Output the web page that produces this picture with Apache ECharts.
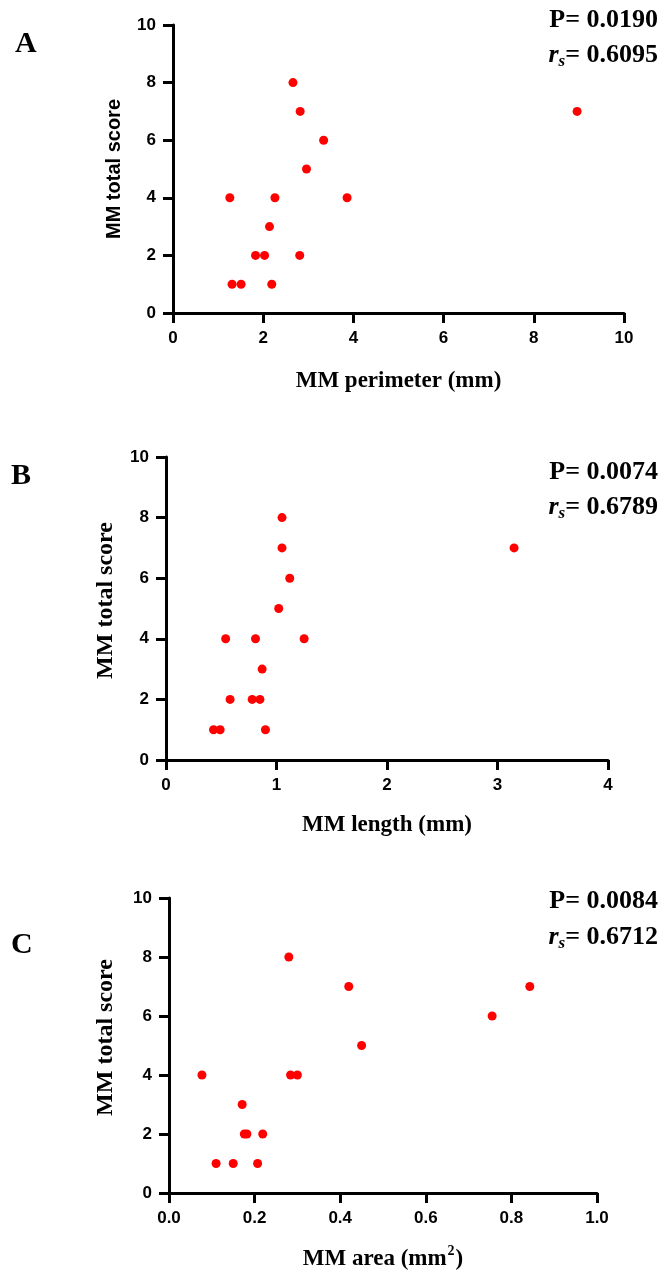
<!DOCTYPE html>
<html><head><meta charset="utf-8">
<script src="https://cdn.jsdelivr.net/npm/echarts@6/dist/echarts.min.js"></script>
<style>html,body{margin:0;padding:0;background:#fff}#c{width:665px;height:1274px}</style>
</head><body><div id="c"></div>
<script>
// ---- data ----
const scores = [8, 7, 7, 6, 5, 4, 4, 4, 3, 2, 2, 2, 1, 1, 1];
const perimeterMm = [2.66, 2.82, 8.96, 3.34, 2.96, 1.26, 2.26, 3.86, 2.14, 1.83, 2.03, 2.81, 1.31, 1.51, 2.19];
const lengthMm = [1.05, 1.05, 3.15, 1.12, 1.02, 0.54, 0.81, 1.25, 0.87, 0.58, 0.78, 0.85, 0.43, 0.49, 0.90];
const areaMm2 = [0.28, 0.42, 0.843, 0.755, 0.45, 0.077, 0.284, 0.30, 0.171, 0.176, 0.182, 0.219, 0.11, 0.15, 0.207];
const xRanges = [[0, 10, 2], [0, 4, 1], [0, 1, 0.2]];
const yRange = [0, 10, 2];
const panelLetters = ['A', 'B', 'C'];
const pValues = ['0.0190', '0.0074', '0.0084'];
const rsValues = ['0.6095', '0.6789', '0.6712'];
const xTitles = ['MM perimeter (mm)', 'MM length (mm)', '{a|MM area (mm}{sup|2}{a|)}'];
const yTitle = 'MM total score';

// ---- layout ----
const grids = [
  {left: 173, top: 25, width: 451, height: 288},
  {left: 166, top: 457, width: 442, height: 303},
  {left: 169, top: 898, width: 428, height: 295}
];
const xNameGaps = [57, 54, 51];
const yNameGaps = [49, 48, 51];
const yNameFonts = [['Liberation Sans', 20, [0, 0, 0, 0]], ['Liberation Serif', 24, [0, 0, 0, 16]], ['Liberation Serif', 24, [0, 0, 0, 16]]];
const statTop = [[5, 40], [457, 492], [886, 922]];
const letterPos = [[15, 29], [11, 461], [11, 930]];

const SERIF = 'Liberation Serif';
const SANS = 'Liberation Sans';
const black = '#000';

function makeAxis() {
  return {
    type: 'value',
    axisLine: {show: true, lineStyle: {color: black, width: 3}},
    axisTick: {show: true, length: 10, lineStyle: {color: black, width: 3}},
    splitLine: {show: false},
    axisLabel: {color: black, fontFamily: SANS, fontWeight: 'bold', fontSize: 17, margin: 17}
  };
}

const xAxes = [], yAxes = [], series = [], titles = [];
const xData = [perimeterMm, lengthMm, areaMm2];
for (let i = 0; i < 3; i++) {
  const r = xRanges[i];
  const xa = makeAxis();
  xa.gridIndex = i;
  xa.min = r[0]; xa.max = r[1]; xa.interval = r[2];
  if (i === 2) xa.axisLabel.formatter = v => v.toFixed(1);
  xa.name = xTitles[i];
  xa.nameLocation = 'middle';
  xa.nameGap = xNameGaps[i];
  xa.nameTextStyle = {color: black, fontFamily: SERIF, fontWeight: 'bold', fontSize: 23};
  if (i === 2) {
    xa.nameTextStyle.rich = {
      a: {color: black, fontFamily: SERIF, fontWeight: 'bold', fontSize: 23},
      sup: {color: black, fontFamily: SERIF, fontWeight: 'bold', fontSize: 14, verticalAlign: 'top', lineHeight: 30, padding: [0, 1, 12, 1]}
    };
  }
  xAxes.push(xa);

  const ya = makeAxis();
  ya.gridIndex = i;
  ya.min = yRange[0]; ya.max = yRange[1]; ya.interval = yRange[2];
  ya.name = yTitle;
  ya.nameLocation = 'middle';
  ya.nameGap = yNameGaps[i];
  ya.nameTextStyle = {color: black, fontFamily: yNameFonts[i][0], fontWeight: 'bold', fontSize: yNameFonts[i][1], padding: yNameFonts[i][2]};
  yAxes.push(ya);

  series.push({
    type: 'scatter', xAxisIndex: i, yAxisIndex: i,
    symbol: 'circle', symbolSize: 9,
    itemStyle: {color: '#ff0000', opacity: 1},
    data: xData[i].map((x, k) => [x, scores[k]])
  });

  titles.push({
    text: 'P= ' + pValues[i], right: 7, top: statTop[i][0], padding: 0,
    textStyle: {color: black, fontFamily: SERIF, fontWeight: 'bold', fontSize: 26, lineHeight: 30}
  });
  titles.push({
    text: '{r|r}{s|s}{n|= ' + rsValues[i] + '}', right: 7, top: statTop[i][1], padding: 0,
    textStyle: {
      color: black, fontFamily: SERIF, fontWeight: 'bold', fontSize: 26, lineHeight: 30,
      rich: {
        r: {color: black, fontFamily: SERIF, fontStyle: 'italic', fontWeight: 'bold', fontSize: 26, lineHeight: 30},
        s: {color: black, fontFamily: SERIF, fontStyle: 'italic', fontWeight: 'bold', fontSize: 17, lineHeight: 14, verticalAlign: 'bottom'},
        n: {color: black, fontFamily: SERIF, fontWeight: 'bold', fontSize: 26, lineHeight: 30}
      }
    }
  });
  titles.push({
    text: panelLetters[i], left: letterPos[i][0], top: letterPos[i][1], padding: 0,
    textStyle: {color: black, fontFamily: SERIF, fontWeight: 'bold', fontSize: 30, lineHeight: 30}
  });
}

const chart = echarts.init(document.getElementById('c'));
chart.setOption({
  animation: false,
  title: titles,
  grid: grids,
  xAxis: xAxes,
  yAxis: yAxes,
  series: series
});
</script></body></html>
